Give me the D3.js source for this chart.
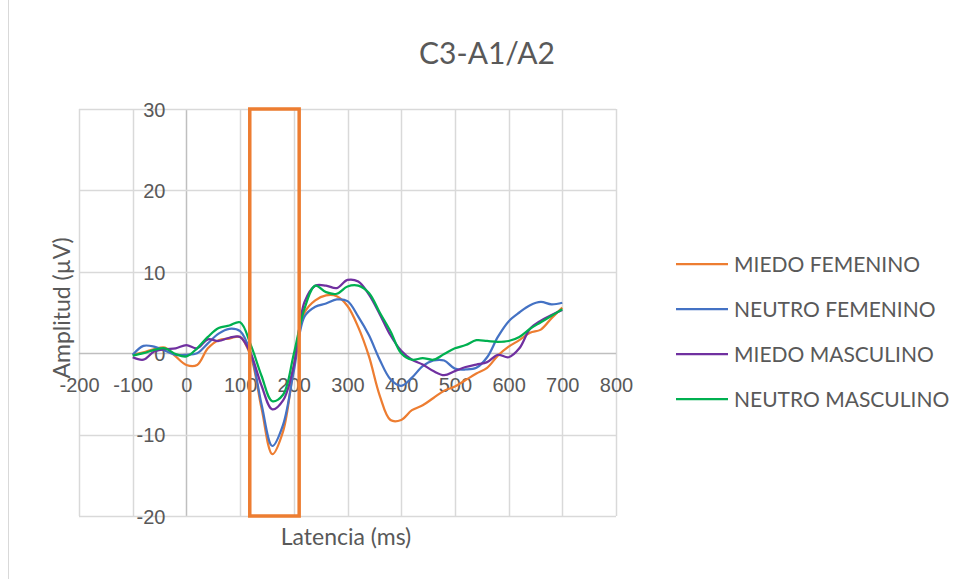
<!DOCTYPE html>
<html>
<head>
<meta charset="utf-8">
<script src="https://cdn.jsdelivr.net/npm/d3@7"></script>
<style>
  html, body { margin: 0; padding: 0; background: #fff; }
  svg { display: block; font-family: Lato, "Open Sans", sans-serif; }
</style>
</head>
<body>
<svg id="chart" width="961" height="579"></svg>
<script>
// ---- data ----
const latency = [-100,-80,-60,-40,-20,0,20,40,60,80,100,120,140,160,180,200,220,240,260,280,300,320,340,360,380,400,420,440,460,480,500,520,540,560,580,600,620,640,660,680,700];
const miedoFemenino   = [-0.2,0.1,0.5,0.7,-0.4,-1.45,-1.45,0.6,1.6,1.8,2.0,-0.4,-6.8,-12.4,-9.6,-1.7,5.0,6.5,7.1,7.0,5.8,3.2,-0.4,-5.2,-8.2,-8.2,-7.0,-6.4,-5.5,-4.6,-4.1,-3.3,-2.5,-1.8,-0.3,0.8,1.6,2.5,2.9,4.3,5.6];
const neutroFemenino  = [-0.2,0.9,0.8,0.3,-0.2,-0.2,0.0,1.2,2.4,3.0,2.7,0.0,-6.3,-11.4,-8.8,-2.2,4.5,5.7,6.1,6.6,6.4,4.5,2.2,-0.8,-3.2,-4.0,-3.0,-1.6,-0.9,-0.9,-1.9,-2.0,-1.8,-0.5,2.0,3.9,5.0,5.9,6.3,6.0,6.2];
const miedoMasculino  = [-0.5,-0.8,0.2,0.5,0.6,1.0,0.6,1.7,1.5,1.9,2.0,-0.1,-4.0,-6.9,-5.8,-1.5,6.3,8.3,8.3,8.0,9.0,8.8,7.2,4.8,2.2,0.3,-0.8,-1.4,-2.2,-2.7,-2.2,-1.7,-1.4,-1.1,-0.2,-0.5,0.6,3.0,4.0,4.7,5.3];
const neutroMasculino = [-0.3,0.0,0.4,0.6,-0.1,-0.4,0.6,2.0,3.1,3.4,3.8,1.0,-2.8,-5.9,-5.1,-0.1,5.5,8.3,7.5,7.3,8.2,8.3,7.4,5.0,2.7,0.0,-0.8,-0.6,-0.8,-0.1,0.6,1.0,1.6,1.5,1.4,1.5,2.0,3.0,3.8,4.6,5.4];
const seriesNames = ["MIEDO FEMENINO","NEUTRO FEMENINO","MIEDO MASCULINO","NEUTRO MASCULINO"];
const seriesColors = ["#ED7D31","#4472C4","#7030A0","#00B050"];
const xTicks = [-200,-100,0,100,200,300,400,500,600,700,800];
const yTicks = [-20,-10,0,10,20,30];
const highlightWindow = [118, 210];
const titleText = "C3-A1/A2";
const xTitle = "Latencia (ms)";
const yTitle = "Amplitud (µV)";

const allSeries = [miedoFemenino, neutroFemenino, miedoMasculino, neutroMasculino];

// ---- layout ----
const svg = d3.select("#chart");
const x = d3.scaleLinear().domain([-200, 800]).range([79, 616]);
const y = d3.scaleLinear().domain([-20, 30]).range([516, 109]);
const textColor = "#595959";
const fmt = d => String(d);

// chart border (left edge visible)
svg.append("line").attr("x1", 8.5).attr("x2", 8.5).attr("y1", 0).attr("y2", 579)
  .attr("stroke", "#d9d9d9").attr("stroke-width", 1);

// gridlines
const grid = svg.append("g");
grid.selectAll("line.v").data(xTicks).join("line")
  .attr("x1", d => Math.round(x(d)) + 0.5).attr("x2", d => Math.round(x(d)) + 0.5)
  .attr("y1", y(30)).attr("y2", y(-20))
  .attr("stroke", d => d === 0 ? "#bfbfbf" : "#d9d9d9").attr("stroke-width", 1.5);
grid.selectAll("line.h").data(yTicks).join("line")
  .attr("y1", d => Math.round(y(d)) + 0.5).attr("y2", d => Math.round(y(d)) + 0.5)
  .attr("x1", x(-200)).attr("x2", x(800))
  .attr("stroke", d => d === 0 ? "#bfbfbf" : "#d9d9d9").attr("stroke-width", 1.5);

// axes (labels only)
const yAxis = svg.append("g").attr("transform", `translate(${x(0)},0)`)
  .call(d3.axisLeft(y).tickValues(yTicks).tickSize(0).tickPadding(21).tickFormat(fmt));
yAxis.select(".domain").remove();
yAxis.selectAll("text").attr("fill", textColor).style("font-size", "20px").attr("dy", "0.36em");

const xAxis = svg.append("g").attr("transform", `translate(0,${y(0)})`)
  .call(d3.axisBottom(x).tickValues(xTicks).tickSize(0).tickPadding(0).tickFormat(fmt));
xAxis.select(".domain").remove();
xAxis.selectAll("text").attr("fill", textColor).style("font-size", "20px").attr("y", 39).attr("dy", 0);

// series lines
const line = d3.line()
  .x((d, i) => x(latency[i]))
  .y(d => y(d))
  .curve(d3.curveCatmullRom.alpha(0.5));
svg.append("g").selectAll("path").data(allSeries).join("path")
  .attr("d", d => line(d))
  .attr("fill", "none")
  .attr("stroke", (d, i) => seriesColors[i])
  .attr("stroke-width", 2.25)
  .attr("stroke-linejoin", "round");

// highlight window
svg.append("rect")
  .attr("x", x(highlightWindow[0])).attr("y", y(30))
  .attr("width", x(highlightWindow[1]) - x(highlightWindow[0]))
  .attr("height", y(-20) - y(30))
  .attr("fill", "none").attr("stroke", "#ED7D31").attr("stroke-width", 3.5);

// title
svg.append("text").attr("x", 487).attr("y", 64).attr("text-anchor", "middle")
  .attr("fill", textColor).style("font-size", "30px").text(titleText);

// axis titles
svg.append("text").attr("x", 346).attr("y", 545).attr("text-anchor", "middle")
  .attr("fill", textColor).style("font-size", "23px").text(xTitle);
svg.append("text").attr("transform", "translate(70,308) rotate(-90)").attr("text-anchor", "middle")
  .attr("fill", textColor).style("font-size", "23px").text(yTitle);

// legend
const legend = svg.append("g");
const lg = legend.selectAll("g").data(seriesNames).join("g")
  .attr("transform", (d, i) => `translate(676,${264 + i * 45})`);
lg.append("line").attr("x1", 0).attr("x2", 52).attr("y1", 0).attr("y2", 0)
  .attr("stroke", (d, i) => seriesColors[i]).attr("stroke-width", 2.25);
lg.append("text").attr("x", 58).attr("y", 0).attr("dy", "0.36em")
  .attr("fill", textColor).style("font-size", "21px").text(d => d);
</script>
</body>
</html>
